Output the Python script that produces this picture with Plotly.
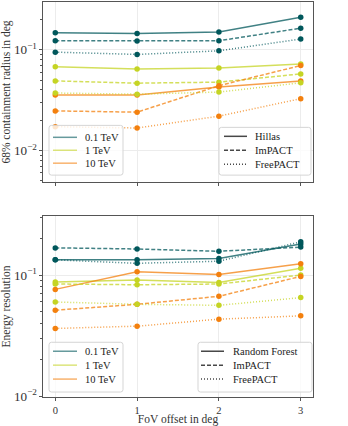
import plotly.graph_objects as go
from plotly.subplots import make_subplots

# FoV offsets (deg)
offsets = [0, 1, 2, 3]
energies = ["0.1 TeV", "1 TeV", "10 TeV"]

# 68% containment radius in deg
ang_hillas = {"0.1 TeV": [0.148, 0.145, 0.150, 0.211],
              "1 TeV": [0.068, 0.0644, 0.0659, 0.0722],
              "10 TeV": [0.0356, 0.0356, 0.0426, 0.0491]}
ang_impact = {"0.1 TeV": [0.123, 0.122, 0.123, 0.164],
              "1 TeV": [0.0491, 0.0466, 0.0477, 0.0576],
              "10 TeV": [0.0247, 0.0240, 0.0440, 0.0697]}
ang_freepact = {"0.1 TeV": [0.0947, 0.0899, 0.0977, 0.128],
                "1 TeV": [0.0372, 0.0362, 0.0380, 0.0470],
                "10 TeV": [0.0172, 0.0167, 0.0219, 0.0327]}

# energy resolution
en_rf = {"0.1 TeV": [0.1334, 0.134, 0.137, 0.180],
         "1 TeV": [0.0877, 0.091, 0.087, 0.114],
         "10 TeV": [0.0762, 0.1064, 0.101, 0.124]}
en_impact = {"0.1 TeV": [0.1675, 0.164, 0.157, 0.170],
             "1 TeV": [0.0844, 0.0832, 0.0844, 0.100],
             "10 TeV": [0.0513, 0.0574, 0.0668, 0.0975]}
en_freepact = {"0.1 TeV": [0.1334, 0.125, 0.130, 0.188],
               "1 TeV": [0.060, 0.0574, 0.0563, 0.0652],
               "10 TeV": [0.0363, 0.0379, 0.0433, 0.0461]}

colors = {"0.1 TeV": (0, 87, 91), "1 TeV": (197, 212, 36), "10 TeV": (243, 128, 14)}
dashes = {"solid": "solid", "dash": "4px,2px", "dot": "1px,2px"}

FONT = "Liberation Serif, Times New Roman, serif"
W, H = 348, 426
ML, MR, MT, MB = 43, 35, 1, 28


def rgba(c, a):
    return f"rgba({c[0]},{c[1]},{c[2]},{a})"


# pixel -> paper helpers (for the hand-drawn legends)
def px(x):
    return (x - ML) / (W - ML - MR)


def py(y):
    return (H - MB - y) / (H - MT - MB)


fig = make_subplots(rows=2, cols=1, shared_xaxes=True)

panels = [
    (1, [(ang_hillas, "solid"), (ang_impact, "dash"), (ang_freepact, "dot")]),
    (2, [(en_rf, "solid"), (en_impact, "dash"), (en_freepact, "dot")]),
]
for row, methods in panels:
    for values, dash in methods:
        for e in energies:
            fig.add_trace(go.Scatter(
                x=offsets, y=values[e], mode="lines+markers",
                line=dict(color=rgba(colors[e], 0.75), width=1.5, dash=dashes[dash]),
                marker=dict(size=5.5, color=rgba(colors[e], 1)),
                showlegend=False,
            ), row=row, col=1)


def add_legend(box, items, line_x, text_x):
    """box=(x0, y0, x1, y1) in px; items=[(y, label, line_color, dash)]"""
    x0, y0, x1, y1 = box
    r = 2.5
    rx, ry = r / (W - ML - MR), r / (H - MT - MB)
    a, b, c, d = px(x0), py(y1), px(x1), py(y0)
    path = (f"M {a + rx},{b} L {c - rx},{b} Q {c},{b} {c},{b + ry} "
            f"L {c},{d - ry} Q {c},{d} {c - rx},{d} L {a + rx},{d} Q {a},{d} {a},{d - ry} "
            f"L {a},{b + ry} Q {a},{b} {a + rx},{b} Z")
    fig.add_shape(type="path", path=path, xref="paper", yref="paper",
                  fillcolor="rgba(255,255,255,0.8)", line=dict(color="#d5d5d5", width=1),
                  layer="above")
    for y, label, color, dash in items:
        fig.add_shape(type="line", xref="paper", yref="paper",
                      x0=px(line_x[0]), x1=px(line_x[1]), y0=py(y), y1=py(y),
                      line=dict(color=color, width=1.5, dash=dashes[dash]), layer="above")
        fig.add_annotation(x=px(text_x), y=py(y), xref="paper", yref="paper",
                           text=label, showarrow=False, xanchor="left", yanchor="middle",
                           font=dict(family=FONT, size=10.5, color="#222"))


method_col = "rgba(40,40,40,0.85)"
add_legend((49, 125, 123, 175),
           [(y, e, rgba(colors[e], 0.6), "solid") for y, e in zip([137, 150, 163], energies)],
           (53, 77), 83)
add_legend((219, 127, 311, 175),
           [(136, "Hillas", method_col, "solid"), (150, "ImPACT", method_col, "dash"),
            (164, "FreePACT", method_col, "dot")],
           (224, 247), 253)
add_legend((49, 343, 123, 393),
           [(y, e, rgba(colors[e], 0.6), "solid") for y, e in zip([352, 366, 380], energies)],
           (53, 77), 83)
add_legend((198, 343, 312, 393),
           [(352, "Random Forest", method_col, "solid"), (366, "ImPACT", method_col, "dash"),
            (380, "FreePACT", method_col, "dot")],
           (201, 224), 231)

axis_common = dict(showline=True, mirror=True, linecolor="#555", linewidth=1,
                   ticks="outside", ticklen=3, tickcolor="#555",
                   gridcolor="#ececec", gridwidth=1, zeroline=False,
                   tickfont=dict(family=FONT, size=10.5, color="#333"))
minor_ticks = dict(ticks="outside", ticklen=2, tickcolor="#555", dtick="D1", showgrid=False)
title_font = dict(family=FONT, size=11.5, color="#333")

fig.update_layout(
    width=W, height=H,
    margin=dict(l=ML, r=MR, t=MT, b=MB),
    plot_bgcolor="white", paper_bgcolor="white",
    font=dict(family=FONT, size=10, color="#333"),
    showlegend=False,
    xaxis=dict(range=[-0.15, 3.15], tickvals=offsets, showticklabels=False, **axis_common),
    xaxis2=dict(range=[-0.15, 3.15], tickvals=offsets,
                title=dict(text="FoV offset in deg", font=title_font, standoff=1),
                **axis_common),
    yaxis=dict(type="log", domain=[0.544, 1.0], range=[-2.315, -0.525], dtick=1,
               exponentformat="power", minor=minor_ticks,
               title=dict(text="68% containment radius in deg", font=title_font, standoff=4),
               **axis_common),
    yaxis2=dict(type="log", domain=[0.0, 0.458], range=[-2.005, -0.514], dtick=1,
                exponentformat="power", minor=minor_ticks,
                title=dict(text="Energy resolution", font=title_font, standoff=4),
                **axis_common),
)

# drop the default page margin so the figure sits at the window origin
fig.write_html("out.html", config={"displayModeBar": False},
               post_script="document.body.style.margin='0';")
